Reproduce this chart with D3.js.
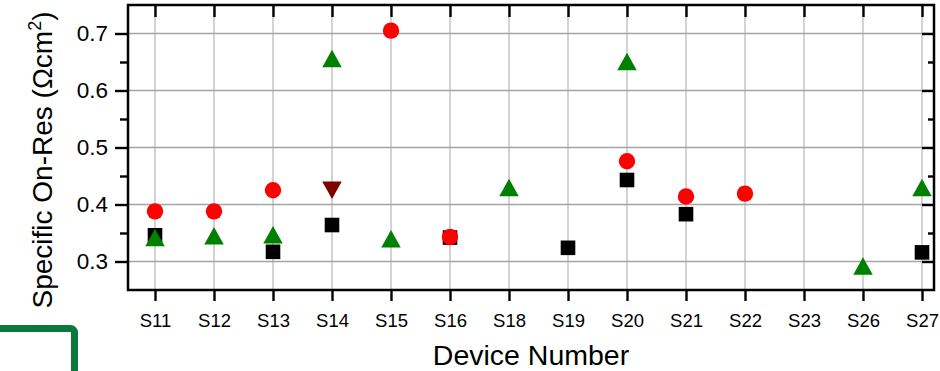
<!DOCTYPE html>
<html>
<head>
<meta charset="utf-8">
<script src="https://cdn.jsdelivr.net/npm/d3@7"></script>
<style>
  html, body { margin: 0; padding: 0; background: #fff; }
  svg { display: block; font-family: "Liberation Sans", Arial, sans-serif; }
</style>
</head>
<body>
<svg id="chart" width="940" height="371"></svg>
<script>
// Device labels along the x axis
const devices = ["S11","S12","S13","S14","S15","S16","S18","S19","S20","S21","S22","S23","S26","S27"];
const yMajorTicks = [0.3, 0.4, 0.5, 0.6, 0.7];
const yMinorTicks = [0.35, 0.45, 0.55, 0.65];

// Specific on-resistance per device (Ωcm²), one array per measurement set
const blackSquares = [
  ["S11", 0.346], ["S13", 0.317], ["S14", 0.364], ["S16", 0.342],
  ["S19", 0.324], ["S20", 0.443], ["S21", 0.383], ["S27", 0.316]
];
const redCircles = [
  ["S11", 0.388], ["S12", 0.388], ["S13", 0.425], ["S15", 0.705],
  ["S16", 0.343], ["S20", 0.476], ["S21", 0.414], ["S22", 0.419]
];
const greenTriangles = [
  ["S11", 0.342], ["S12", 0.345], ["S13", 0.347], ["S14", 0.656],
  ["S15", 0.340], ["S18", 0.430], ["S20", 0.651], ["S26", 0.292], ["S27", 0.430]
];
const darkRedDownTriangles = [
  ["S14", 0.425]
];

const svg = d3.select("#chart");
const frame = { left: 128, right: 934, top: 5, bottom: 290 };

const x = d3.scalePoint().domain(devices).range([155, 922]);
const y = d3.scaleLinear().domain([0.25, 0.75]).range([frame.bottom, frame.top]);

// grid lines
const grid = svg.append("g");
grid.selectAll("line.v").data(devices).join("line")
  .attr("x1", d => x(d)).attr("x2", d => x(d))
  .attr("y1", frame.top).attr("y2", frame.bottom)
  .attr("stroke", "#c8c8c8").attr("stroke-width", 1.6);
grid.selectAll("line.h").data(yMajorTicks).join("line")
  .attr("x1", frame.left).attr("x2", frame.right)
  .attr("y1", d => y(d)).attr("y2", d => y(d))
  .attr("stroke", "#a4a4a4").attr("stroke-width", 1.3);

// axes
const axisStyle = g => {
  g.select(".domain").remove();
  g.selectAll(".tick line").attr("stroke", "#000").attr("stroke-width", 2.4);
};
const labelFont = "Liberation Sans, Arial, sans-serif";

// left axis: major (labelled) + minor ticks, outward
svg.append("g").attr("transform", `translate(${frame.left},0)`)
  .call(d3.axisLeft(y).tickValues(yMajorTicks).tickSize(13).tickPadding(7).tickFormat(d3.format(".1f")))
  .call(axisStyle)
  .call(g => g.selectAll("text").attr("font-size", 22.5).attr("fill", "#000").attr("font-family", labelFont));
svg.append("g").attr("transform", `translate(${frame.left},0)`)
  .call(d3.axisLeft(y).tickValues(yMinorTicks).tickSize(8).tickFormat(""))
  .call(axisStyle);

// right axis: inward ticks
svg.append("g").attr("transform", `translate(${frame.right},0)`)
  .call(d3.axisRight(y).tickValues(yMajorTicks).tickSize(-12).tickFormat(""))
  .call(axisStyle);
svg.append("g").attr("transform", `translate(${frame.right},0)`)
  .call(d3.axisRight(y).tickValues(yMinorTicks).tickSize(-6).tickFormat(""))
  .call(axisStyle);

// bottom axis: outward ticks with device labels
svg.append("g").attr("transform", `translate(0,${frame.bottom})`)
  .call(d3.axisBottom(x).tickSize(11).tickPadding(13))
  .call(axisStyle)
  .call(g => g.selectAll("text").attr("font-size", 18.5).attr("fill", "#000").attr("font-family", labelFont));

// top axis: inward ticks
svg.append("g").attr("transform", `translate(0,${frame.top})`)
  .call(d3.axisTop(x).tickSize(-12).tickFormat(""))
  .call(axisStyle);

// frame
svg.append("rect")
  .attr("x", frame.left).attr("y", frame.top)
  .attr("width", frame.right - frame.left).attr("height", frame.bottom - frame.top)
  .attr("fill", "none").attr("stroke", "#000").attr("stroke-width", 2.5);

// markers
const pts = svg.append("g");
pts.selectAll("rect.sq").data(blackSquares).join("rect")
  .attr("x", d => x(d[0]) - 7.3).attr("y", d => y(d[1]) - 7.3)
  .attr("width", 14.6).attr("height", 14.6).attr("fill", "#000");
pts.selectAll("circle").data(redCircles).join("circle")
  .attr("cx", d => x(d[0])).attr("cy", d => y(d[1])).attr("r", 8.2)
  .attr("fill", "#ff0000");
const tri = (cx, cy, w, h, down) => down
  ? `M${cx - w / 2},${cy - h / 2}L${cx + w / 2},${cy - h / 2}L${cx},${cy + h / 2}Z`
  : `M${cx - w / 2},${cy + h / 2}L${cx + w / 2},${cy + h / 2}L${cx},${cy - h / 2}Z`;
pts.selectAll("path.up").data(greenTriangles).join("path")
  .attr("d", d => tri(x(d[0]), y(d[1]), 19.5, 17.5, false))
  .attr("fill", "#008000");
pts.selectAll("path.dn").data(darkRedDownTriangles).join("path")
  .attr("d", d => tri(x(d[0]), y(d[1]), 19.5, 17.5, true))
  .attr("fill", "#800000");

// axis titles
svg.append("text")
  .attr("x", 531).attr("y", 365)
  .attr("text-anchor", "middle").attr("font-size", 28.5).attr("fill", "#000")
  .text("Device Number");

const yTitle = svg.append("text")
  .attr("transform", "translate(52,160) rotate(-90)")
  .attr("text-anchor", "middle").attr("font-size", 28).attr("fill", "#000");
yTitle.append("tspan").text("Specific On-Res (Ωcm");
yTitle.append("tspan").attr("font-size", 18).attr("dy", -11).text("2");
yTitle.append("tspan").attr("dy", 11).text(")");

// legend box edge at the lower left
svg.append("rect")
  .attr("x", -20).attr("y", 328.5).attr("width", 94.5).attr("height", 80)
  .attr("rx", 4).attr("fill", "#fff").attr("stroke", "#0a7a3c").attr("stroke-width", 7);
</script>
</body>
</html>
